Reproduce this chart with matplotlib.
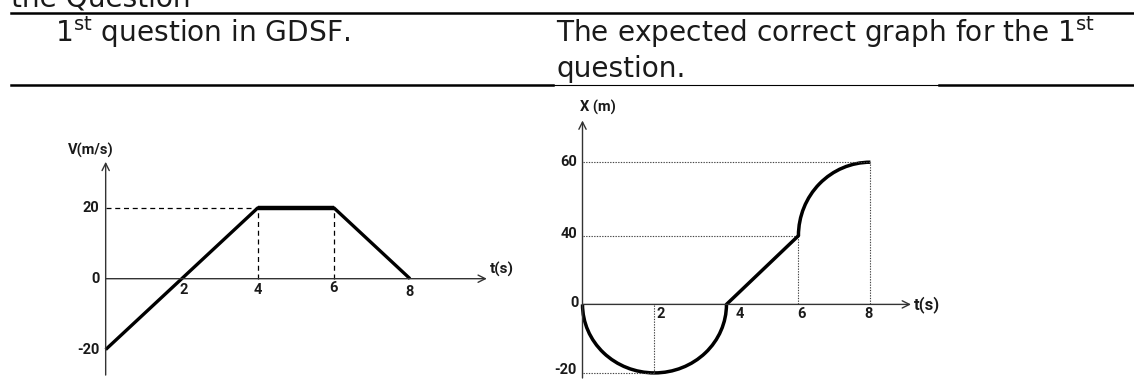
import numpy as np
import matplotlib
matplotlib.use("Agg")
import matplotlib.pyplot as plt
import matplotlib.patches as patches
from matplotlib.lines import Line2D

# --- data -------------------------------------------------------------
# left graph: velocity against time
v_t = [0, 2, 4, 6, 8]
v_vals = [-20, 0, 20, 20, 0]
v_yticks = [-20, 0, 20]
v_xticks = [2, 4, 6, 8]

# right graph: position against time
x_t = [0, 2, 4, 6, 8]
x_vals = [0, -20, 0, 40, 60]
x_yticks = [-20, 0, 40, 60]
x_xticks = [2, 4, 6, 8]

header_left = r"1$^{\mathrm{st}}$ question in GDSF."
header_right = [r"The expected correct graph for the 1$^{\mathrm{st}}$", "question."]

W, H = 1134, 392
TXT = "#1a1a1a"
HEAD = 20.2
LAB = dict(fontsize=10.5, fontweight="bold", color=TXT, family=["Roboto", "DejaVu Sans"])


def fx(px):
    return px / W


def fy(py):
    return 1 - py / H


def axes_box(fig, x0, y0, x1, y1):
    return fig.add_axes([fx(x0), fy(y1), (x1 - x0) / W, (y1 - y0) / H])


def arrow(ax, start, tip):
    ax.annotate("", xy=tip, xytext=start,
                arrowprops=dict(arrowstyle="->", lw=1.0, color="#333333",
                                shrinkA=0, shrinkB=0, mutation_scale=13))


def label(ax, text, xy, dx, dy, ha="center", **kw):
    style = dict(LAB)
    style.update(kw)
    ax.annotate(text, xy=xy, xytext=(dx, dy), textcoords="offset pixels",
                ha=ha, va="center", **style)


fig = plt.figure(figsize=(W / 100, H / 100), dpi=100)

# --- page text and table rules --------------------------------------------
fig.text(fx(11), fy(6), "the Question", fontsize=HEAD, color=TXT, va="baseline")
fig.add_artist(Line2D([fx(11), 1], [fy(13), fy(13)], lw=1.8, color="black"))
fig.text(fx(55), fy(42), header_left, fontsize=HEAD, color=TXT, va="baseline")
fig.text(fx(556), fy(42), header_right[0], fontsize=HEAD, color=TXT, va="baseline")
fig.text(fx(556), fy(77), header_right[1], fontsize=HEAD, color=TXT, va="baseline")
fig.add_artist(Line2D([fx(11), fx(553)], [fy(85), fy(85)], lw=1.8, color="black"))
fig.add_artist(Line2D([fx(553), fx(939)], [fy(85), fy(85)], lw=0.8, color="black"))
fig.add_artist(Line2D([fx(939), 1], [fy(85), fy(85)], lw=1.8, color="black"))

# --- left graph: V(t) ----------------------------------------------------
ax1 = axes_box(fig, 60, 130, 520, 385)
ax1.set_xlim(-1.2006, 10.8917)
ax1.set_ylim(-30.007, 41.976)
ax1.axis("off")

arrow(ax1, (0, -27.2), (0, 33.0))
arrow(ax1, (0, 0), (10.02, 0))

dash = dict(color="black", lw=0.9, ls=(0, (4, 3)))
ax1.plot([0, v_t[2]], [v_vals[2], v_vals[2]], **dash)
ax1.vlines(v_t[2:4], 0, v_vals[2:4], **dash)

ax1.plot(v_t, v_vals, color="black", lw=2.4, solid_capstyle="butt")
ax1.plot(v_t[2:4], v_vals[2:4], color="black", lw=3.2, solid_capstyle="butt")

for v in v_yticks:
    label(ax1, str(v), (0, v), -6, 0, ha="right")
for t, dx, dy in zip(v_xticks, [2, 0, 0, 0], [-11.5, -11, -9.5, -13]):
    label(ax1, str(t), (t, 0), dx, dy)
label(ax1, "V(m/s)", (0, 0), -15, 128, fontsize=10.5)
label(ax1, "t(s)", (10.02, 0), 15, 9, fontsize=11)

# --- right graph: X(t) ---------------------------------------------------
# the drawing is not to scale on the X axis: piecewise linear mapping
knots = [-100, -20, 0, 40, 60, 200]
spots = [-342.5, -68.5, 0, 68.7, 142.2, 656.7]


def fwd(y):
    return np.interp(y, knots, spots)


def inv(p):
    return np.interp(p, spots, knots)


ax2 = axes_box(fig, 540, 95, 950, 385)
ax2.set_yscale("function", functions=(fwd, inv))
ax2.set_xlim(-1.181, 10.211)
ax2.set_ylim(inv(-80.6), inv(209.4))
ax2.axis("off")

arrow(ax2, (0, inv(-73.6)), (0, inv(183.9)))
arrow(ax2, (0, 0), (9.127, 0))

dots = dict(color="#444444", lw=0.8, ls=(0, (1.2, 1.2)))
ax2.hlines([x_vals[1], x_vals[3], x_vals[4]], 0, [x_t[1], x_t[3], x_t[4]], **dots)
ax2.vlines([x_t[1], x_t[3], x_t[4]], [x_vals[1], 0, 0], [0, x_vals[3], x_vals[4]], **dots)

curve = dict(color="black", lw=2.5, fill=False)
ax2.add_patch(patches.Arc((x_t[1], x_vals[0]), x_t[2] - x_t[0],
                          2 * (x_vals[0] - x_vals[1]), theta1=180, theta2=360, **curve))
ax2.plot(x_t[2:4], x_vals[2:4], color="black", lw=2.5, solid_capstyle="round")
ax2.add_patch(patches.Arc((x_t[4], x_vals[3]), 2 * (x_t[4] - x_t[3]),
                          2 * (x_vals[4] - x_vals[3]), theta1=90, theta2=180, **curve))

for v, dx, dy in zip(x_yticks, [-5.5, -3.5, -5.5, -5.5], [3, 1, 2, 0]):
    label(ax2, str(v), (0, v), dx, dy, ha="right")
for t, dx in zip(x_xticks, [6, 13, 3, -2]):
    label(ax2, str(t), (t, 0), dx, -10)
label(ax2, "X (m)", (0, 0), 15, 197, fontsize=10.5)
label(ax2, "t(s)", (9.127, 0), 16, 0, fontsize=12)

fig.savefig("out.png", dpi=100)
